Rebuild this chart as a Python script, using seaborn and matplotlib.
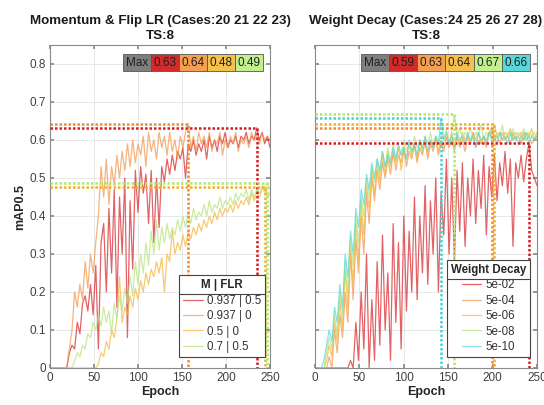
import numpy as np
import pandas as pd
import matplotlib
matplotlib.use("Agg")
import matplotlib.pyplot as plt
import seaborn as sns
from matplotlib.patches import Rectangle
from matplotlib.lines import Line2D

# ---------------- data (mAP0.5 every 3 epochs, starting at epoch 1) ----------------
EPOCH_START = 1
EPOCH_STEP = 3

left_title = "Momentum & Flip LR (Cases:20 21 22 23)\nTS:8"
left_legend_title = "M | FLR"
left_labels = ["0.937 | 0.5", "0.937 | 0", "0.5 | 0", "0.7 | 0.5"]

left_m937_f05 = [0, 0, 0, 0, 0, 0, 0, 0.04, 0.06, 0.05,
                 0.12, 0.09, 0.17, 0.19, 0.15, 0.22, 0.14, 0.27, 0.05, 0.33,
                 0.38, 0.20, 0.42, 0.25, 0.47, 0.16, 0.45, 0.30, 0.50, 0.08,
                 0.44, 0.26, 0.52, 0.41, 0.53, 0.46, 0.51, 0.38, 0.52, 0.33,
                 0.50, 0.37, 0.53, 0.49, 0.55, 0.51, 0.56, 0.52, 0.57, 0.55,
                 0.58, 0.50, 0.59, 0.57, 0.60, 0.56, 0.59, 0.57, 0.60, 0.55,
                 0.61, 0.58, 0.60, 0.57, 0.61, 0.59, 0.62, 0.58, 0.60, 0.59,
                 0.61, 0.58, 0.61, 0.60, 0.62, 0.59, 0.61, 0.60, 0.632, 0.60,
                 0.62, 0.59, 0.61, 0.58]
left_m937_f0 = [0, 0, 0, 0, 0, 0, 0, 0.05, 0.10, 0.20,
                0.16, 0.22, 0.18, 0.28, 0.21, 0.30, 0.25, 0.33, 0.40, 0.53,
                0.45, 0.55, 0.43, 0.53, 0.48, 0.56, 0.50, 0.57, 0.52, 0.59,
                0.53, 0.60, 0.54, 0.59, 0.56, 0.61, 0.53, 0.62, 0.57, 0.60,
                0.55, 0.62, 0.58, 0.61, 0.56, 0.62, 0.57, 0.60, 0.55, 0.61,
                0.58, 0.62, 0.643, 0.58, 0.61, 0.57, 0.62, 0.59, 0.61, 0.58,
                0.62, 0.57, 0.60, 0.59, 0.62, 0.56, 0.60, 0.58, 0.61, 0.59,
                0.62, 0.57, 0.60, 0.59, 0.61, 0.58, 0.62, 0.60, 0.61, 0.59,
                0.62, 0.60, 0.61, 0.60]
left_m05_f0 = [0, 0, 0, 0, 0, 0, 0, 0, 0, 0,
               0, 0, 0, 0, 0, 0, 0, 0, 0.01, 0.04,
               0.03, 0.07, 0.05, 0.10, 0.08, 0.13, 0.24, 0.12, 0.16, 0.14,
               0.19, 0.16, 0.21, 0.18, 0.23, 0.20, 0.25, 0.22, 0.26, 0.24,
               0.28, 0.25, 0.29, 0.20, 0.30, 0.28, 0.36, 0.30, 0.33, 0.31,
               0.35, 0.32, 0.36, 0.34, 0.37, 0.35, 0.38, 0.36, 0.39, 0.37,
               0.40, 0.38, 0.41, 0.39, 0.42, 0.40, 0.42, 0.41, 0.43, 0.41,
               0.44, 0.42, 0.44, 0.43, 0.45, 0.43, 0.46, 0.44, 0.46, 0.45,
               0.47, 0.477, 0.45, 0.46]
left_m07_f05 = [0, 0, 0, 0, 0, 0, 0, 0, 0, 0.02,
                0.04, 0.03, 0.06, 0.05, 0.09, 0.08, 0.12, 0.10, 0.14, 0.11,
                0.16, 0.12, 0.15, 0.09, 0.17, 0.13, 0.19, 0.15, 0.21, 0.17,
                0.24, 0.19, 0.28, 0.22, 0.30, 0.25, 0.33, 0.27, 0.36, 0.30,
                0.39, 0.31, 0.37, 0.33, 0.38, 0.34, 0.37, 0.35, 0.39, 0.36,
                0.40, 0.37, 0.41, 0.38, 0.42, 0.39, 0.41, 0.40, 0.43, 0.40,
                0.44, 0.41, 0.43, 0.42, 0.45, 0.42, 0.44, 0.43, 0.45, 0.43,
                0.46, 0.44, 0.46, 0.45, 0.47, 0.44, 0.47, 0.45, 0.47, 0.46,
                0.48, 0.46, 0.487, 0.47]

right_title = "Weight Decay (Cases:24 25 26 27 28)\nTS:8"
right_legend_title = "Weight Decay"
right_labels = ["5e-02", "5e-04", "5e-06", "5e-08", "5e-10"]

right_wd_5e02 = [0, 0, 0, 0, 0, 0, 0, 0, 0, 0,
                 0, 0, 0, 0.02, 0.0, 0.12, 0.02, 0.20, 0.05, 0.30,
                 0.0, 0.18, 0.02, 0.28, 0.06, 0.35, 0.10, 0.25, 0.02, 0.38,
                 0.12, 0.33, 0.05, 0.40, 0.15, 0.36, 0.20, 0.45, 0.18, 0.40,
                 0.25, 0.48, 0.22, 0.44, 0.30, 0.50, 0.20, 0.46, 0.35, 0.55,
                 0.30, 0.50, 0.28, 0.52, 0.36, 0.54, 0.32, 0.50, 0.40, 0.55,
                 0.38, 0.52, 0.42, 0.56, 0.35, 0.53, 0.45, 0.56, 0.44, 0.54,
                 0.48, 0.57, 0.46, 0.55, 0.32, 0.54, 0.50, 0.56, 0.49, 0.55,
                 0.593, 0.52, 0.50, 0.48]
right_wd_5e04 = [0, 0, 0, 0, 0, 0.03, 0.0, 0.10, 0.04, 0.14,
                 0.08, 0.20, 0.12, 0.30, 0.18, 0.34, 0.25, 0.40, 0.30, 0.46,
                 0.38, 0.50, 0.44, 0.52, 0.47, 0.54, 0.50, 0.55, 0.51, 0.57,
                 0.52, 0.56, 0.54, 0.58, 0.53, 0.57, 0.55, 0.59, 0.54, 0.58,
                 0.56, 0.60, 0.55, 0.59, 0.57, 0.60, 0.56, 0.59, 0.57, 0.61,
                 0.58, 0.60, 0.57, 0.61, 0.58, 0.60, 0.57, 0.61, 0.59, 0.62,
                 0.58, 0.60, 0.59, 0.61, 0.58, 0.62, 0.632, 0.60, 0.61, 0.59,
                 0.62, 0.60, 0.61, 0.59, 0.62, 0.60, 0.61, 0.59, 0.62, 0.60,
                 0.61, 0.59, 0.60, 0.61]
right_wd_5e06 = [0, 0, 0, 0, 0.02, 0.06, 0.03, 0.12, 0.07, 0.18,
                 0.10, 0.26, 0.16, 0.32, 0.22, 0.38, 0.28, 0.44, 0.35, 0.48,
                 0.42, 0.52, 0.46, 0.54, 0.49, 0.56, 0.51, 0.57, 0.53, 0.56,
                 0.54, 0.58, 0.52, 0.57, 0.55, 0.59, 0.56, 0.58, 0.55, 0.60,
                 0.57, 0.59, 0.56, 0.60, 0.58, 0.61, 0.57, 0.60, 0.58, 0.61,
                 0.59, 0.62, 0.58, 0.61, 0.59, 0.62, 0.60, 0.61, 0.59, 0.62,
                 0.60, 0.62, 0.59, 0.61, 0.60, 0.62, 0.61, 0.642, 0.61, 0.62,
                 0.60, 0.62, 0.61, 0.63, 0.60, 0.62, 0.61, 0.62, 0.60, 0.62,
                 0.61, 0.63, 0.60, 0.62]
right_wd_5e08 = [0, 0, 0, 0, 0.04, 0.08, 0.05, 0.14, 0.09, 0.20,
                 0.14, 0.28, 0.20, 0.34, 0.27, 0.40, 0.33, 0.45, 0.40, 0.50,
                 0.45, 0.53, 0.49, 0.55, 0.51, 0.57, 0.53, 0.58, 0.54, 0.59,
                 0.55, 0.58, 0.56, 0.60, 0.57, 0.59, 0.56, 0.61, 0.58, 0.60,
                 0.57, 0.61, 0.59, 0.62, 0.58, 0.61, 0.59, 0.62, 0.60, 0.63,
                 0.59, 0.62, 0.668, 0.61, 0.63, 0.60, 0.62, 0.61, 0.63, 0.60,
                 0.62, 0.61, 0.64, 0.60, 0.62, 0.61, 0.63, 0.60, 0.62, 0.61,
                 0.64, 0.60, 0.62, 0.61, 0.63, 0.60, 0.62, 0.61, 0.63, 0.60,
                 0.62, 0.61, 0.62, 0.60]
right_wd_5e10 = [0, 0, 0, 0.02, 0.06, 0.10, 0.07, 0.16, 0.12, 0.22,
                 0.16, 0.30, 0.24, 0.36, 0.30, 0.42, 0.37, 0.47, 0.43, 0.51,
                 0.47, 0.54, 0.50, 0.55, 0.52, 0.57, 0.53, 0.56, 0.54, 0.58,
                 0.55, 0.59, 0.56, 0.58, 0.55, 0.60, 0.57, 0.59, 0.56, 0.60,
                 0.58, 0.61, 0.57, 0.60, 0.58, 0.61, 0.59, 0.658, 0.60, 0.62,
                 0.59, 0.61, 0.58, 0.62, 0.60, 0.61, 0.59, 0.62, 0.60, 0.61,
                 0.58, 0.62, 0.60, 0.61, 0.59, 0.62, 0.60, 0.61, 0.59, 0.62,
                 0.60, 0.61, 0.59, 0.62, 0.60, 0.61, 0.59, 0.61, 0.60, 0.62,
                 0.59, 0.61, 0.60, 0.61]

left_series = [left_m937_f05, left_m937_f0, left_m05_f0, left_m07_f05]
right_series = [right_wd_5e02, right_wd_5e04, right_wd_5e06, right_wd_5e08, right_wd_5e10]

# ---------------- styling ----------------
line_colors = ["#d8262b", "#f3964a", "#f5b53c", "#b4e57c", "#5cd8d8"]
max_colors = ["#d41e1e", "#f28a32", "#f2ae2a", "#b0e870", "#48d2d2"]
box_colors = ["#d42a2a", "#f4a050", "#f6c04c", "#c2f08e", "#5ad8d8"]

sns.set_theme(style="whitegrid")
plt.rcParams["font.family"] = ["Liberation Sans", "DejaVu Sans"]
plt.rcParams["axes.edgecolor"] = "#8a8a8a"
plt.rcParams["grid.color"] = "#e3e3e3"
plt.rcParams["grid.linewidth"] = 0.6

fig = plt.figure(figsize=(5.44, 4.05), dpi=100)
ax_l = fig.add_axes([50 / 544, 37 / 405, 220 / 544, 323 / 405])
ax_r = fig.add_axes([315 / 544, 37 / 405, 222 / 544, 323 / 405])


def make_df(series, labels):
    frames = []
    for vals, lab in zip(series, labels):
        ep = EPOCH_START + EPOCH_STEP * np.arange(len(vals))
        frames.append(pd.DataFrame({"Epoch": ep, "mAP": vals, "case": lab}))
    return pd.concat(frames, ignore_index=True)


def draw_panel(ax, series, labels, title, leg_title, leg_anchor, ylabel):
    df = make_df(series, labels)
    pal = dict(zip(labels, line_colors[:len(labels)]))
    sns.lineplot(data=df, x="Epoch", y="mAP", hue="case", palette=pal,
                 hue_order=labels, linewidth=0.9, alpha=0.72, ax=ax,
                 legend=True, estimator=None)
    n = len(series)
    bw = 0.127
    x0 = 0.968 - (n + 1) * bw
    ax.add_patch(Rectangle((x0, 0.918), bw, 0.053, transform=ax.transAxes,
                           facecolor="#7f7f7f", edgecolor="#555555", lw=0.6, zorder=6))
    ax.text(x0 + bw / 2, 0.9445, "Max", transform=ax.transAxes, ha="center",
            va="center", fontsize=8.5, color="#202020", zorder=7)
    for k, vals in enumerate(series):
        v = np.asarray(vals, dtype=float)
        i = int(np.argmax(v))
        ep = EPOCH_START + EPOCH_STEP * i
        m = v[i]
        ax.plot([0, ep, ep], [m, m, 0], color=max_colors[k], lw=1.8,
                ls=(0, (1.0, 0.8)), zorder=4)
        bx = x0 + (k + 1) * bw
        ax.add_patch(Rectangle((bx, 0.918), bw, 0.053, transform=ax.transAxes,
                               facecolor=box_colors[k], edgecolor="#555555",
                               lw=0.6, zorder=6))
        ax.text(bx + bw / 2, 0.9445, f"{m:.2f}", transform=ax.transAxes,
                ha="center", va="center", fontsize=8.5, color="#202020", zorder=7)

    ax.set_xlim(0, 250)
    ax.set_ylim(0, 0.85)
    ax.set_xticks([0, 50, 100, 150, 200, 250])
    ax.set_yticks(np.arange(0, 0.81, 0.1))
    ax.set_yticklabels(["0"] + [f"{t:.1f}" for t in np.arange(0.1, 0.81, 0.1)])
    ax.tick_params(axis="both", labelsize=8.5, labelcolor="#404040",
                   direction="in", length=3, color="#8a8a8a", pad=3,
                   top=True, right=True, bottom=True, left=True)
    for s in ax.spines.values():
        s.set_linewidth(0.8)
        s.set_color("#8a8a8a")
    ax.set_xlabel("Epoch", fontsize=9, fontweight="bold", color="#262626", labelpad=1)
    if ylabel:
        ax.set_ylabel("mAP0.5", fontsize=9, fontweight="bold", color="#262626", labelpad=2)
    else:
        ax.set_ylabel("")
    ax.set_title(title, fontsize=9.6, fontweight="bold", color="#1a1a1a",
                 pad=4, linespacing=1.35)
    leg = ax.legend(title=leg_title, loc="lower right", bbox_to_anchor=leg_anchor,
                    fontsize=8.3, title_fontproperties={"weight": "bold", "size": 8.3},
                    frameon=True, fancybox=False, edgecolor="#444444",
                    handlelength=1.7, handletextpad=0.35, labelspacing=0.3,
                    borderpad=0.35, borderaxespad=0, framealpha=1)
    for t in leg.get_texts():
        t.set_color("#333333")
    for h in leg.legend_handles:
        h.set_linewidth(0.9)
    leg.get_frame().set_linewidth(0.8)
    leg.set_zorder(10)
    return leg


leg_l = draw_panel(ax_l, left_series, left_labels, left_title, left_legend_title,
                   (0.977, 0.034), True)
leg_r = draw_panel(ax_r, right_series, right_labels, right_title, right_legend_title,
                   (0.968, 0.034), False)
ax_r.set_yticklabels(["" for _ in ax_r.get_yticks()])

# separator line under the legend titles
fig.canvas.draw()
inv = fig.transFigure.inverted()
for leg in (leg_l, leg_r):
    fb = leg.get_frame().get_window_extent()
    tb = leg.get_title().get_window_extent()
    y = tb.y0 - 3
    (fx0, fy), = inv.transform([(fb.x0, y)])
    (fx1, _), = inv.transform([(fb.x1, y)])
    fig.add_artist(Line2D([fx0, fx1], [fy, fy], color="#444444", lw=0.8, zorder=20))

fig.savefig("out.png", dpi=100)
